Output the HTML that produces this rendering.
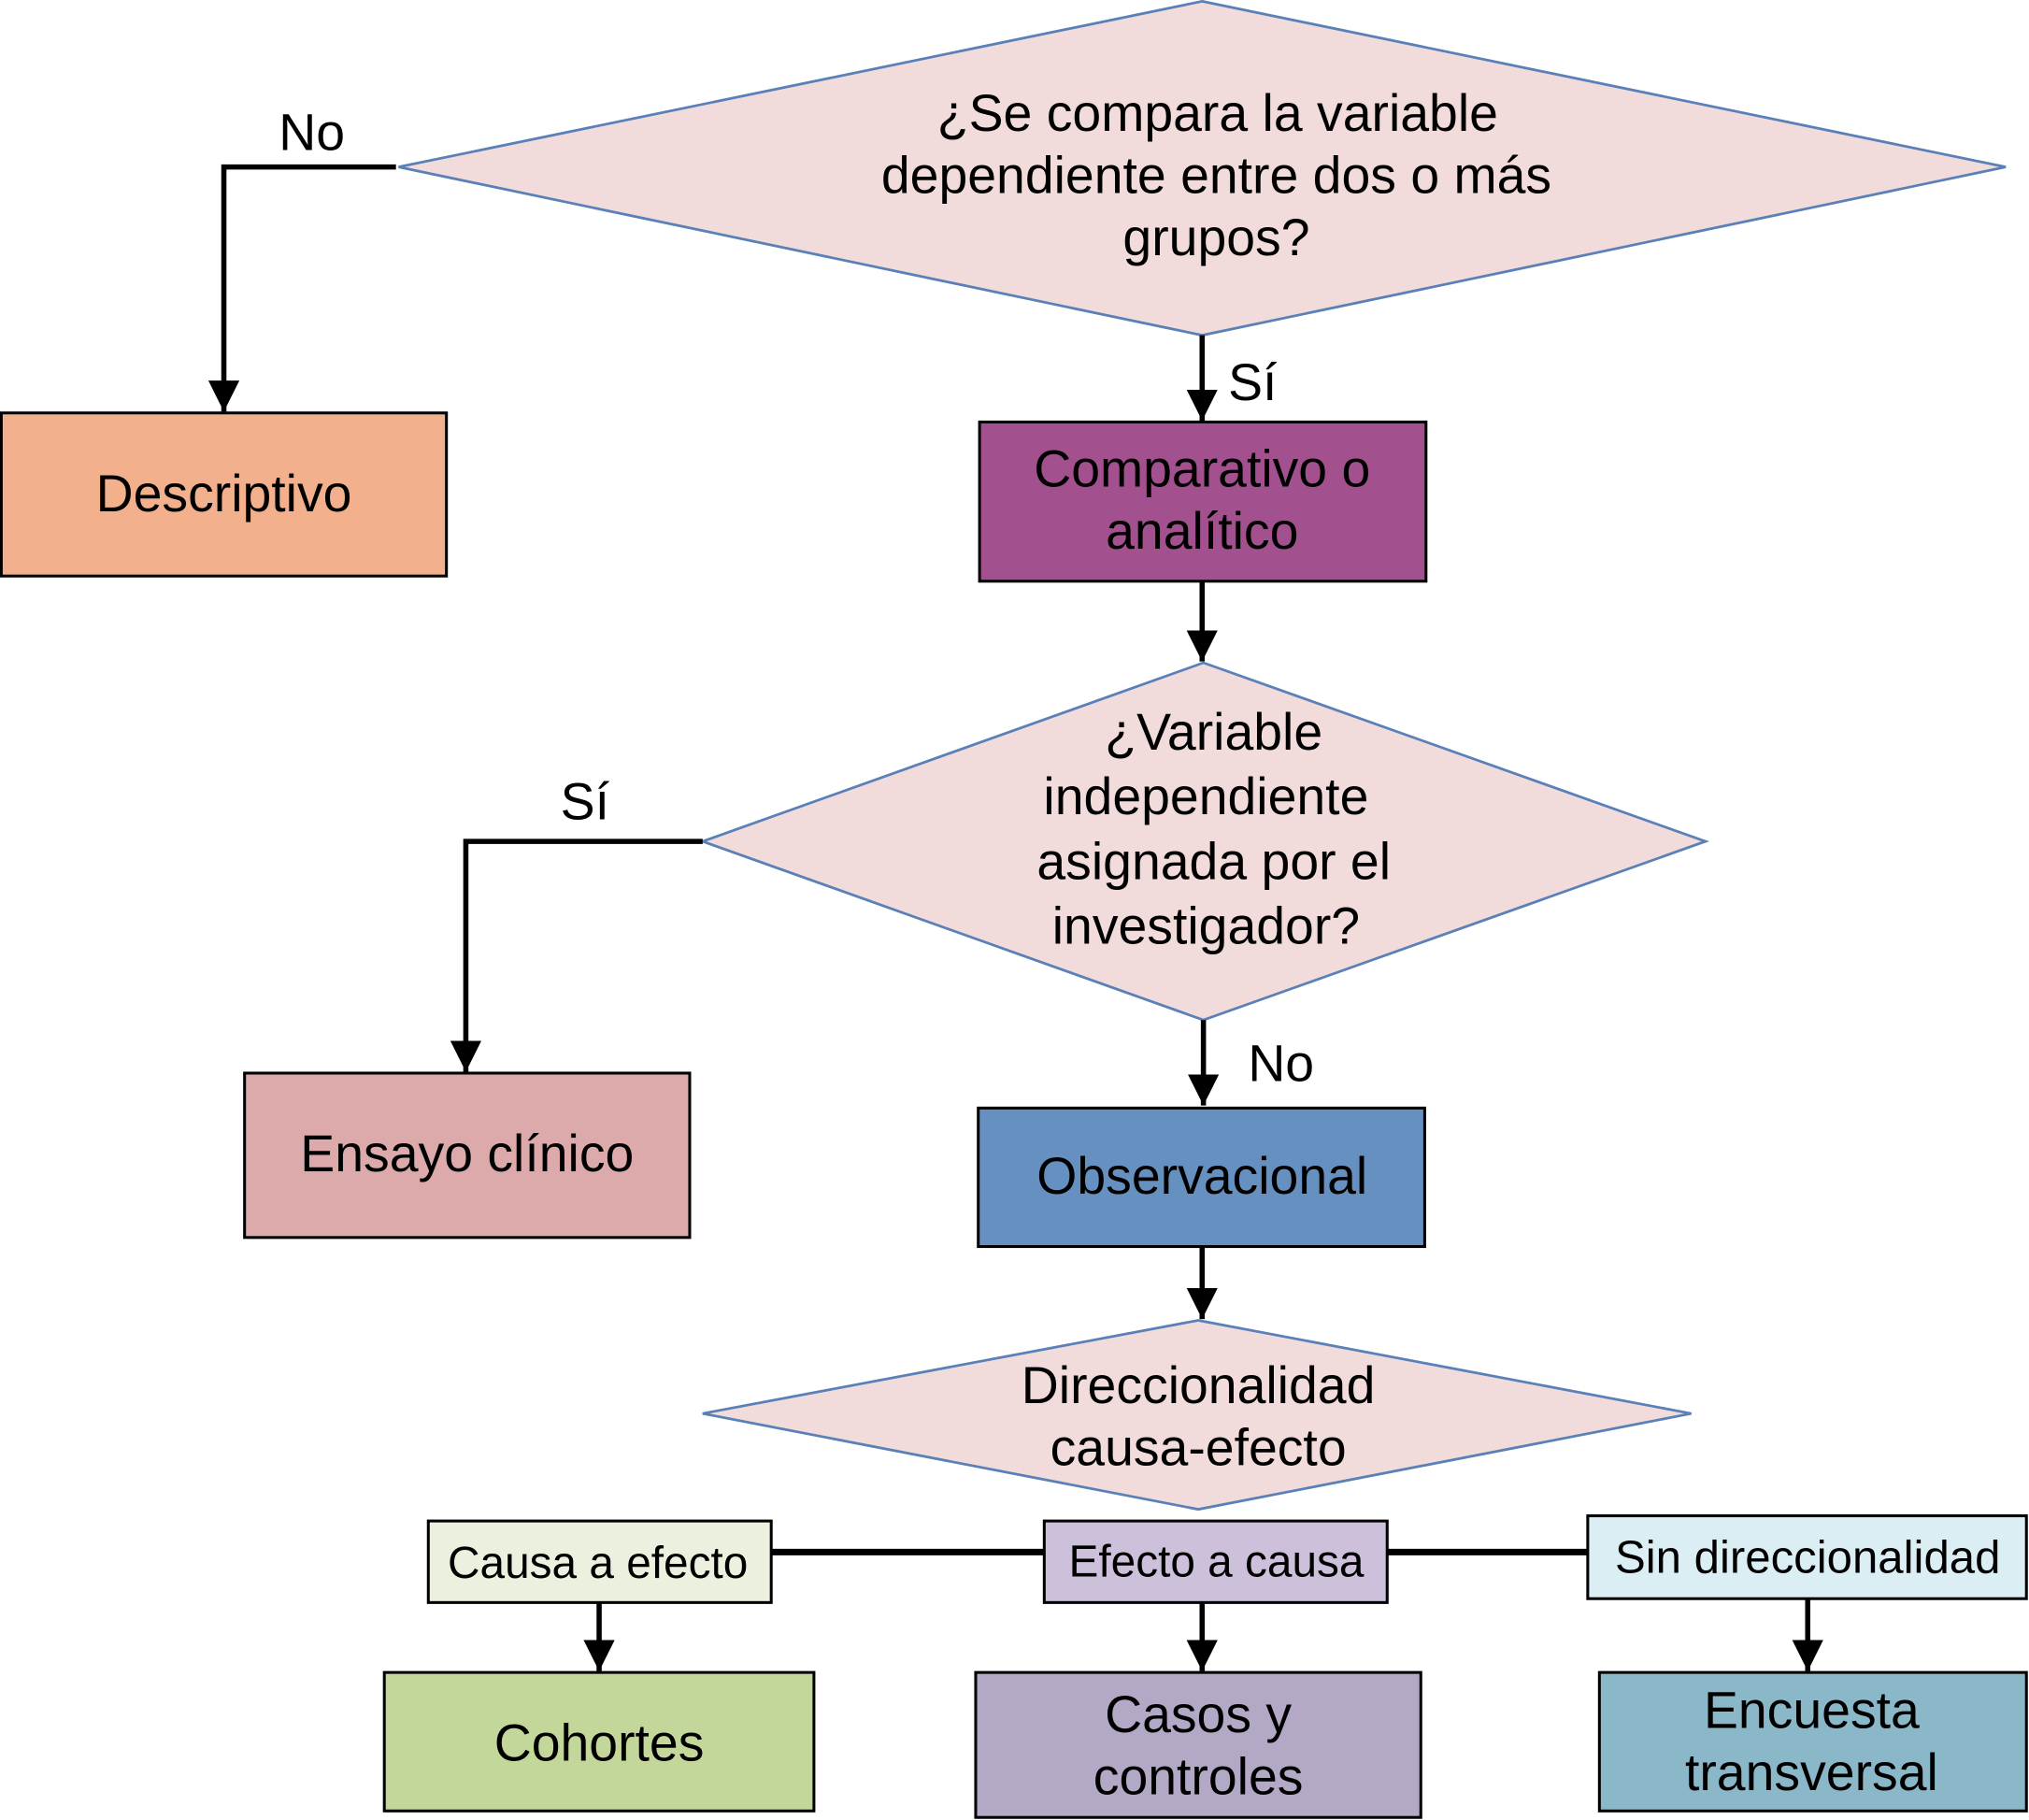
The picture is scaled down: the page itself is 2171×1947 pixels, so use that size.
<!DOCTYPE html>
<html><head><meta charset="utf-8"><style>
html,body{margin:0;padding:0;background:#fff;}
svg{display:block;}
text{font-family:"Liberation Sans",Arial,sans-serif;fill:#000;text-anchor:middle;}
</style></head><body>
<svg width="2171" height="1947" viewBox="0 0 1568 1406" preserveAspectRatio="none" xmlns="http://www.w3.org/2000/svg">
<defs>
<marker id="ah" viewBox="0 0 10 10" refX="10" refY="5" markerWidth="6" markerHeight="6" markerUnits="strokeWidth" orient="auto">
<path d="M0,0 L10,5 L0,10 z" fill="#000"/></marker>
</defs>
<g fill="#f2dcdb" stroke="#5a80b8" stroke-width="2">
<polygon points="929,1 1550,129 929,259 308,129"/>
<polygon points="930,512 1318,650 930,788 543,650"/>
<polygon points="926,1020 1307,1092 926,1166 543,1092"/>
</g>
<g stroke="#000" stroke-width="4" fill="none">
<polyline points="306,129 173,129 173,318" marker-end="url(#ah)"/>
<line x1="929" y1="259" x2="929" y2="325" marker-end="url(#ah)"/>
<line x1="929" y1="449" x2="929" y2="511" marker-end="url(#ah)"/>
<polyline points="543,650 360,650 360,828" marker-end="url(#ah)"/>
<line x1="930" y1="788" x2="930" y2="854" marker-end="url(#ah)"/>
<line x1="929" y1="963" x2="929" y2="1019" marker-end="url(#ah)"/>
<line x1="596" y1="1199" x2="807" y2="1199" stroke-width="5"/>
<line x1="1072" y1="1199" x2="1227" y2="1199" stroke-width="5"/>
<line x1="463" y1="1238" x2="463" y2="1291" marker-end="url(#ah)"/>
<line x1="929" y1="1238" x2="929" y2="1291" marker-end="url(#ah)"/>
<line x1="1397" y1="1235" x2="1397" y2="1291" marker-end="url(#ah)"/>
</g>
<g stroke="#000" stroke-width="2.2">
<rect x="1" y="319" width="344" height="126" fill="#f2b08c"/>
<rect x="757" y="326" width="345" height="123" fill="#a2508e"/>
<rect x="189" y="829" width="344" height="127" fill="#dcaaaa"/>
<rect x="756" y="856" width="345" height="107" fill="#6690bf"/>
<rect x="331" y="1175" width="265" height="63" fill="#ebf1de"/>
<rect x="807" y="1175" width="265" height="63" fill="#ccc0da"/>
<rect x="1227" y="1171" width="339" height="64" fill="#dbeef4"/>
<rect x="297" y="1292" width="332" height="107" fill="#c4d79b"/>
<rect x="754" y="1292" width="344" height="112" fill="#b3a8c6"/>
<rect x="1236" y="1292" width="330" height="107" fill="#8bb8c8"/>
</g>
<g font-size="40">
<text x="941" y="101">¿Se compara la variable</text>
<text x="940" y="149">dependiente entre dos o más</text>
<text x="940" y="197">grupos?</text>
<text x="241" y="116">No</text>
<text x="968" y="309">Sí</text>
<text x="173" y="395">Descriptivo</text>
<text x="929" y="376">Comparativo o</text>
<text x="929" y="424">analítico</text>
<text x="938" y="579">¿Variable</text>
<text x="932" y="629">independiente</text>
<text x="938" y="679">asignada por el</text>
<text x="932" y="729">investigador?</text>
<text x="452" y="633">Sí</text>
<text x="990" y="835">No</text>
<text x="361" y="905">Ensayo clínico</text>
<text x="929" y="922">Observacional</text>
<text x="926" y="1084">Direccionalidad</text>
<text x="926" y="1132">causa-efecto</text>
</g>
<g font-size="34.5">
<text x="462" y="1219">Causa a efecto</text>
<text x="940" y="1218">Efecto a causa</text>
<text x="1397" y="1215" font-size="35.5">Sin direccionalidad</text>
</g>
<g font-size="40">
<text x="463" y="1360">Cohortes</text>
<text x="926" y="1338">Casos y</text>
<text x="926" y="1386">controles</text>
<text x="1400" y="1335">Encuesta</text>
<text x="1400" y="1383">transversal</text>
</g>
</svg>
</body></html>
